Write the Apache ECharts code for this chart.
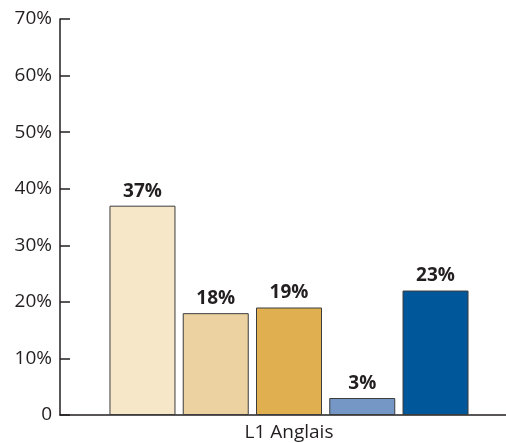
<!DOCTYPE html>
<html><head><meta charset="utf-8">
<script src="https://cdn.jsdelivr.net/npm/echarts@6/dist/echarts.min.js"></script>
<style>html,body{margin:0;padding:0;background:#fff;overflow:hidden;width:506px;height:443px}#c{width:518px;height:443px}</style>
</head><body><div id="c"></div>
<script>
const categories = ["L1 Anglais"];
const seriesValues = [37, 18, 19, 3, 22];
const valueLabels = ["37%", "18%", "19%", "3%", "23%"];
const barColors = ["#f6e7c9", "#ebd2a0", "#e0b050", "#7497c6", "#00579a"];
const yTicks = [0, 10, 20, 30, 40, 50, 60, 70];

const font = "'Open Sans', 'Noto Sans', sans-serif";
const chart = echarts.init(document.getElementById('c'));
const series = seriesValues.map((v, i) => ({
  type: 'bar',
  data: [v],
  barWidth: 66,
  barGap: '11%',
  itemStyle: { color: barColors[i], borderColor: '#3c3c3c', borderWidth: 1 },
  label: {
    show: true, position: 'top', distance: 5,
    formatter: () => valueLabels[i],
    fontFamily: font, fontWeight: 'bold', fontSize: 19, color: '#231f20'
  }
}));
chart.setOption({
  animation: false,
  grid: { left: 60, right: 0, top: 19, bottom: 28, containLabel: false },
  xAxis: {
    type: 'category', data: categories,
    axisLine: { lineStyle: { color: '#231f20', width: 1.5 } },
    axisTick: { show: false },
    axisLabel: { fontFamily: font, fontSize: 19, color: '#231f20', margin: 8 }
  },
  yAxis: {
    type: 'value', min: 0, max: 70, interval: 10,
    axisLine: { show: true, lineStyle: { color: '#231f20', width: 1.5 } },
    axisTick: { show: true, inside: true, length: 10, lineStyle: { color: '#231f20', width: 1.5 } },
    splitLine: { show: false },
    axisLabel: {
      fontFamily: font, fontSize: 19, color: '#231f20', margin: 8,
      formatter: v => (yTicks.includes(v) ? (v === 0 ? '0' : v + '%') : '')
    }
  },
  series: series
});
</script></body></html>
